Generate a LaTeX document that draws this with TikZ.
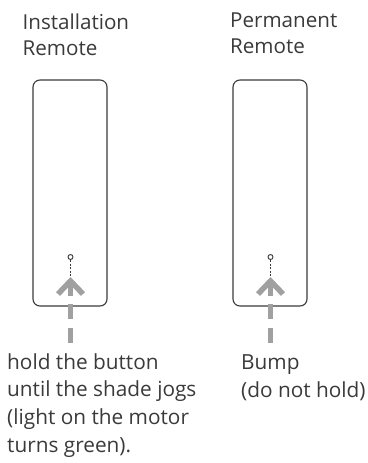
\documentclass[tikz,border=0pt]{standalone}
\usepackage{fontspec}
\setmainfont{Open Sans}
\usetikzlibrary{positioning}

\definecolor{inkgray}{HTML}{3A3A3A}
\definecolor{pushgray}{HTML}{A0A0A0}

\begin{document}
\begin{tikzpicture}[
    x=1pt, y=-1pt,
    caption/.style={anchor=base west, inner sep=0pt, align=left, text=inkgray, font=\fontsize{20.6}{26}\selectfont},
    remote/.style={rectangle, draw=inkgray, line width=1.1pt, rounded corners=7pt, minimum width=74pt, minimum height=226pt},
    button/.style={circle, draw=inkgray, line width=0.9pt, inner sep=0pt, minimum size=5pt},
    guide/.style={draw=inkgray, line width=0.9pt, dash pattern=on 2pt off 1.6pt},
    push/.style={draw=pushgray, line width=5pt, dash pattern=on 15pt off 9pt on 15pt off 8pt on 40pt},
    chevron/.style={draw=pushgray, line width=5.5pt, miter limit=10}
]
    \useasboundingbox (0,0) rectangle (367,463);

    % Titles (anchored at the last baseline)
    \node[caption] (insttitle) at (22.5,55) {Installation\\Remote};
    \node[caption] (permtitle) at (230,53) {Permanent\\Remote};

    % Remotes
    \node[remote] (instbox) at (70,193) {};
    \node[remote] (permbox) at (270,193) {};

    % Buttons
    \node[button] (instbtn) at (70.5,257) {};
    \node[button] (permbtn) at (270.5,257) {};

    % Push arrows
    \coordinate (insttip) at (70.5,281);
    \coordinate (instbase) at (70.5,343);
    \coordinate (permtip) at (270.5,281);
    \coordinate (permbase) at (270.5,343);

    \draw[guide] (instbtn) -- (insttip);
    \draw[guide] (permbtn) -- (permtip);

    \draw[push] (instbase) -- (insttip);
    \draw[push] (permbase) -- (permtip);
    \draw[chevron] ([shift={(-12.5,13)}]insttip) -- (insttip) -- ([shift={(12.5,13)}]insttip);
    \draw[chevron] ([shift={(-12.5,13)}]permtip) -- (permtip) -- ([shift={(12.5,13)}]permtip);

    % Instructions
    \node[caption, font=\fontsize{20.8}{27.6}\selectfont] (instnote) at (7,452) {hold the button\\until the shade jogs\\(light on the motor\\turns green).};
    \node[caption, font=\fontsize{20.8}{27.6}\selectfont] (permnote) at (241,397) {Bump\\(do not hold)};

\end{tikzpicture}
\end{document}
